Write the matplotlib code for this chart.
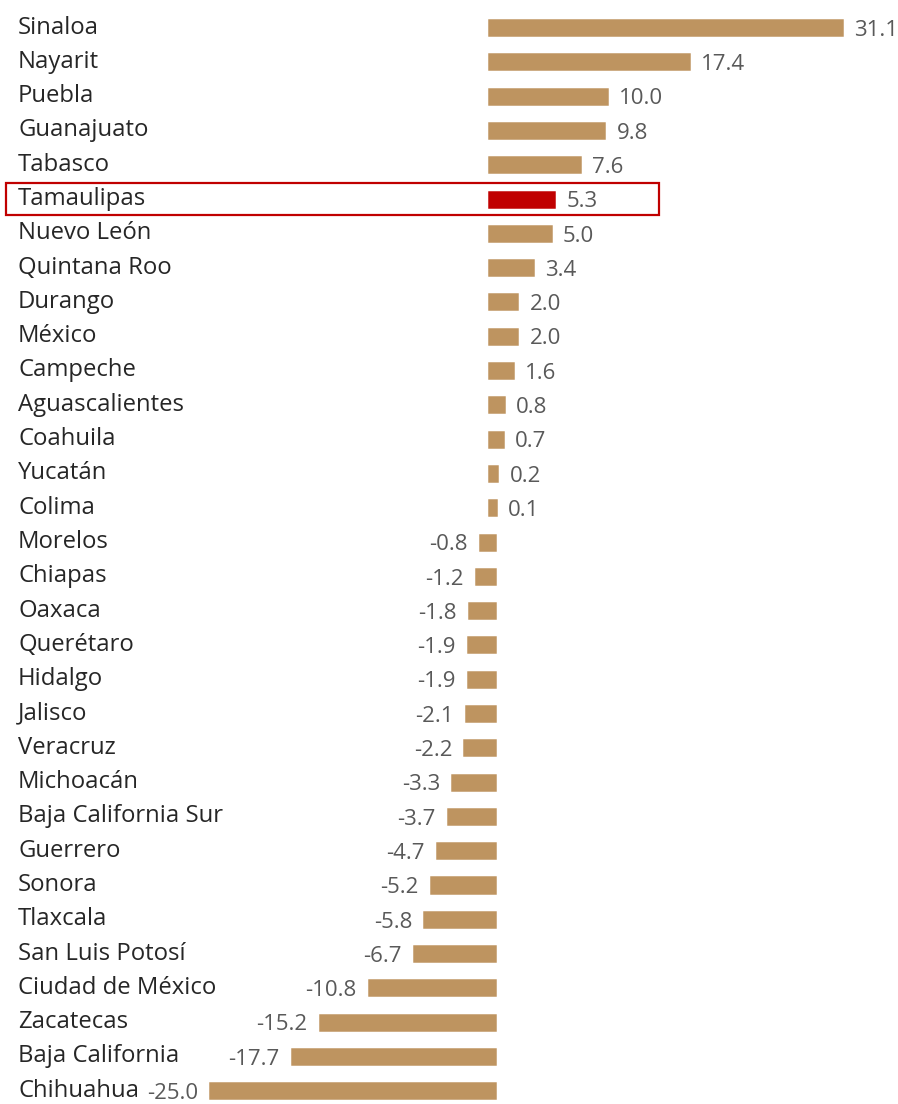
import matplotlib
matplotlib.use("Agg")
import matplotlib.pyplot as plt
from matplotlib.patches import Rectangle
import matplotlib.transforms as mtransforms

states = ["Sinaloa", "Nayarit", "Puebla", "Guanajuato", "Tabasco", "Tamaulipas",
          "Nuevo León", "Quintana Roo", "Durango", "México", "Campeche",
          "Aguascalientes", "Coahuila", "Yucatán", "Colima", "Morelos", "Chiapas",
          "Oaxaca", "Querétaro", "Hidalgo", "Jalisco", "Veracruz", "Michoacán",
          "Baja California Sur", "Guerrero", "Sonora", "Tlaxcala", "San Luis Potosí",
          "Ciudad de México", "Zacatecas", "Baja California", "Chihuahua"]
values = [31.1, 17.4, 10.0, 9.8, 7.6, 5.3, 5.0, 3.4, 2.0, 2.0, 1.6, 0.8, 0.7, 0.2, 0.1,
          -0.8, -1.2, -1.8, -1.9, -1.9, -2.1, -2.2, -3.3, -3.7, -4.7, -5.2, -5.8, -6.7,
          -10.8, -15.2, -17.7, -25.0]
highlight = "Tamaulipas"

W, H = 898, 1104
DPI = 100
fig = plt.figure(figsize=(W / DPI, H / DPI), dpi=DPI)
ax = fig.add_axes([0, 0, 1, 1])
ax.axis("off")

pxu = 11.15          # pixels per unit
zero_px = 492
row0 = 27.5
rowsp = 34.3
edge_px = 8.5        # total outline thickness in px (gives bars a minimum size)
edge_pt = edge_px * 72 / DPI
bar_h = (17.5 - edge_px) / rowsp

ax.set_xlim(-zero_px / pxu, (W - zero_px) / pxu)
ax.set_ylim((H - row0) / rowsp, -row0 / rowsp)

gold = "#BE9460"
red = "#C00000"
font = "Open Sans"
n = len(states)
ypos = list(range(n))
half = edge_px / 2 / pxu
gap = 11 / pxu

for y, s, v in zip(ypos, states, values):
    c = red if s == highlight else gold
    ax.barh(y, v, height=bar_h, color=c, edgecolor=c, linewidth=edge_pt,
            joinstyle="miter")
    if v >= 0:
        ax.text(v + half + gap, y + 0.08, f"{v:.1f}", ha="left", va="center",
                fontsize=16, color="#595959", family=font)
    else:
        ax.text(v - half - gap, y + 0.08, f"{v:.1f}", ha="right", va="center",
                fontsize=16, color="#595959", family=font)

trans = mtransforms.blended_transform_factory(ax.transAxes, ax.transData)
for y, s in zip(ypos, states):
    ax.text(18 / W, y, s, ha="left", va="center", fontsize=17.2,
            color="#262626", family=font, transform=trans)

hi = states.index(highlight)
rect = Rectangle((6 / W, hi - 0.48), (659 - 6) / W, 0.96, transform=trans,
                 fill=False, edgecolor=red, linewidth=1.6)
ax.add_patch(rect)

fig.savefig("out.png", dpi=DPI, facecolor="white")
